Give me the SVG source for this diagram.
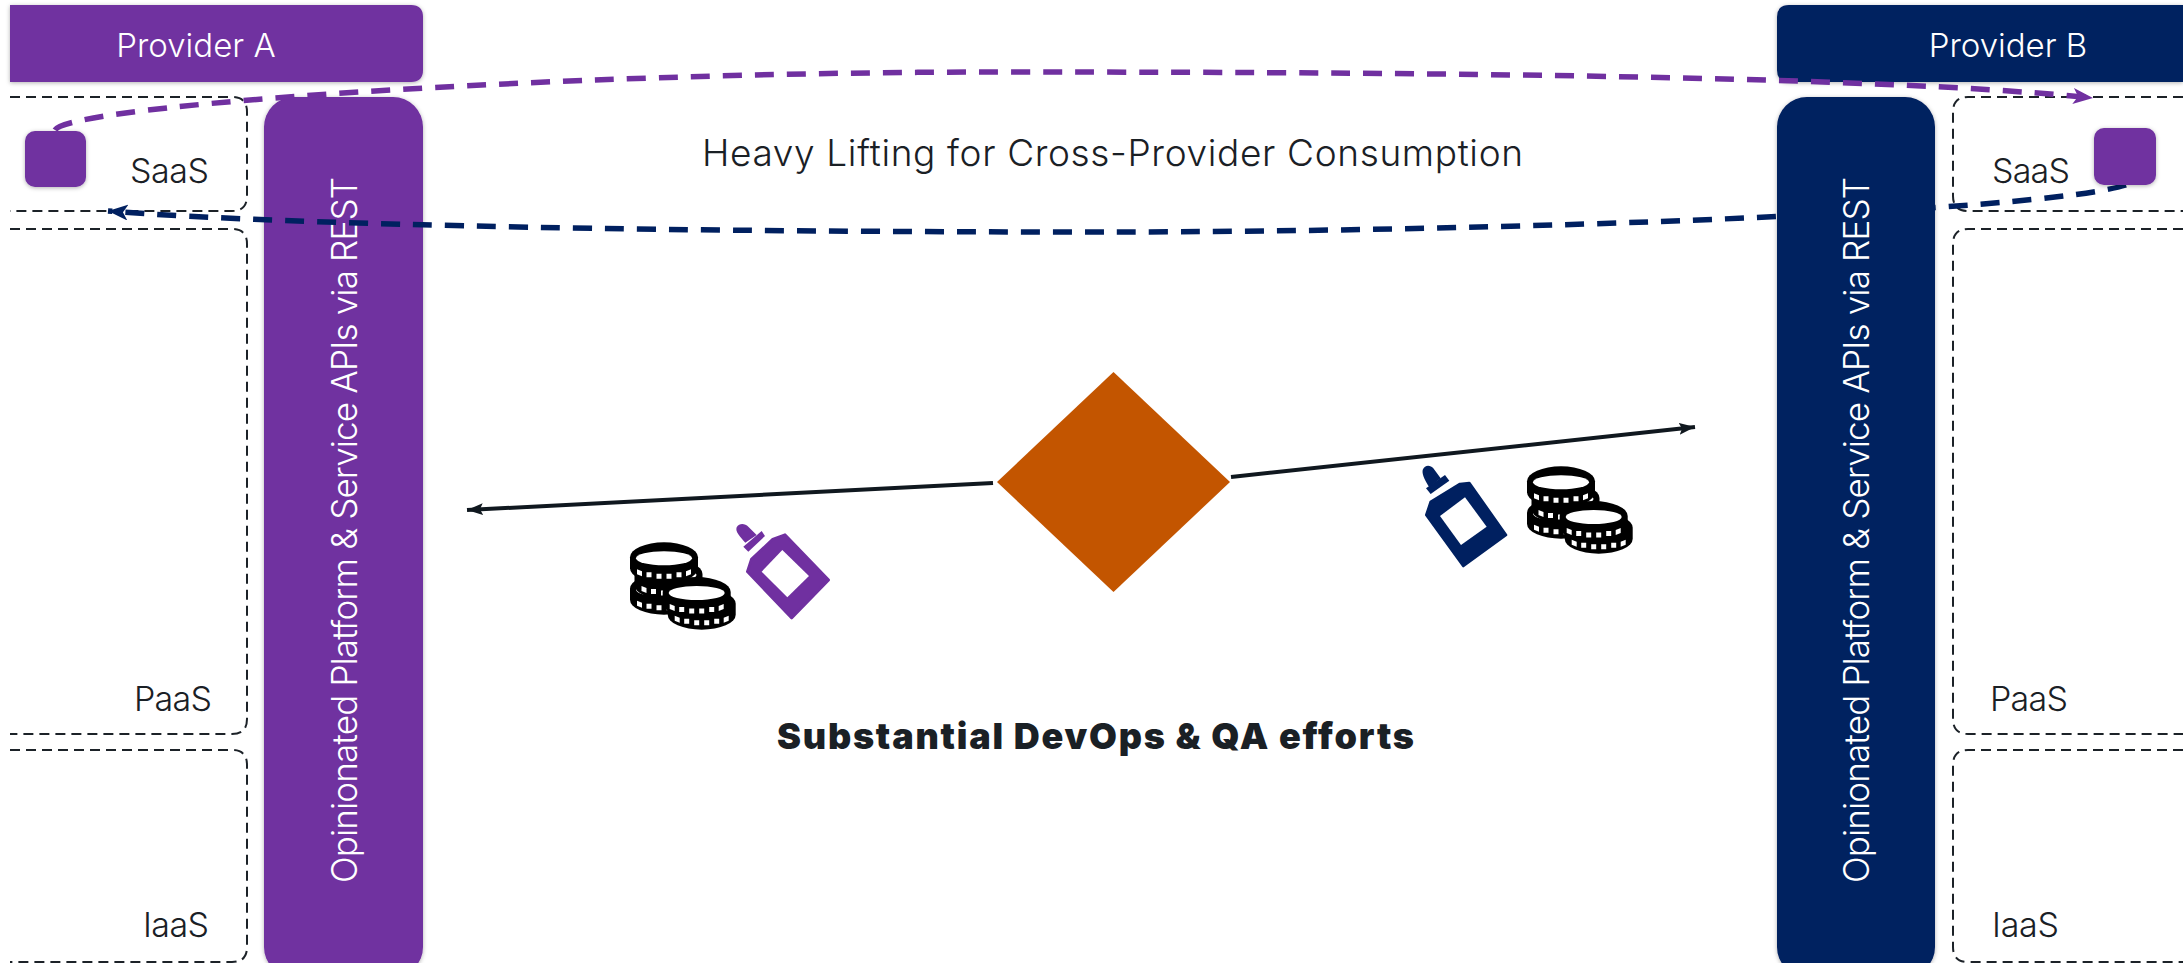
<svg xmlns="http://www.w3.org/2000/svg" width="2183" height="963" viewBox="0 0 2183 963">
<style>
text{font-family:Inter,"Noto Sans","Liberation Sans",sans-serif;font-size:33px;font-weight:350;fill:#1a2025}
.w{fill:#fff}
.lab{font-size:34px}
.api{font-size:35px;font-weight:300}
.head{font-size:37px}
.bold{font-weight:900;font-size:36px;fill:#1a2025}
.purple{fill:#7030a0}
.navy{fill:#002060}
.box{fill:none;stroke:#1c2228;stroke-width:2;stroke-dasharray:10 6}
.sh{filter:url(#shadow)}
.conn{fill:none;stroke-width:5.500;stroke-dasharray:19 13}
.thin{fill:none;stroke:#10181f;stroke-width:4}
</style>
<defs>
<filter id="shadow" x="-10%" y="-10%" width="120%" height="120%"><feDropShadow dx="0" dy="1" stdDeviation="2" flood-color="#000" flood-opacity="0.3"/></filter>
<marker id="ap" markerUnits="userSpaceOnUse" markerWidth="22" markerHeight="16" refX="20" refY="8" orient="auto"><path d="M0 0L20 8L0 16L5 8Z" fill="#7030a0"/></marker>
<marker id="an" markerUnits="userSpaceOnUse" markerWidth="22" markerHeight="16" refX="20" refY="8" orient="auto"><path d="M0 0L20 8L0 16L5 8Z" fill="#002060"/></marker>
<marker id="ak" markerUnits="userSpaceOnUse" markerWidth="18" markerHeight="14" refX="16" refY="6" orient="auto"><path d="M0 0L16 6L0 12L3 6Z" fill="#10181f"/></marker>
<g id="coin">
<path d="M-34 -1A34 15 0 0 1 34 -1V10A34 15 0 0 1 -34 10Z" fill="#000"/>
<ellipse cx="0" cy="0" rx="28" ry="7" fill="#fff"/>
<path d="M-27 11l5 2v5l-5-2zM-17.500 14h5v5h-5zM-7.500 15.500h5v5h-5zM2.500 15.500h5v5h-5zM12.500 14h5v5h-5zM22 13l5-2v5l-5 2z" fill="#fff"/>
</g>
<g id="coins">
<use href="#coin" x="64" y="89.700"/>
<use href="#coin" x="68.500" y="75"/>
<use href="#coin" x="64" y="58.300"/>
<use href="#coin" x="101.700" y="104.700"/>
<use href="#coin" x="96.700" y="93"/>
</g>
</defs>
<rect width="2183" height="963" fill="#fff"/>

<g id="saas-a"><path class="box" d="M10 97H232Q247 97 247 112V196Q247 211 232 211H10"/><text class="lab" x="130" y="183" textLength="79">SaaS</text></g>
<g id="paas-a"><path class="box" d="M10 229H232Q247 229 247 244V719Q247 734 232 734H10"/><text class="lab" x="134" y="711" textLength="78">PaaS</text></g>
<g id="iaas-a"><path class="box" d="M10 750H232Q247 750 247 765V947Q247 962 232 962H10"/><text class="lab" x="143" y="937" textLength="66">IaaS</text></g>
<g id="saas-b"><path class="box" d="M2183 97H1968Q1953 97 1953 112V196Q1953 211 1968 211H2183"/><text class="lab" x="1992" y="183" textLength="78">SaaS</text></g>
<g id="paas-b"><path class="box" d="M2183 229H1968Q1953 229 1953 244V719Q1953 734 1968 734H2183"/><text class="lab" x="1990" y="711" textLength="78">PaaS</text></g>
<g id="iaas-b"><path class="box" d="M2183 750H1968Q1953 750 1953 765V947Q1953 962 1968 962H2183"/><text class="lab" x="1992" y="937" textLength="67">IaaS</text></g>

<g id="provider-a"><path class="purple sh" d="M10 5H411Q423 5 423 17V70Q423 82 411 82H10Z"/><text class="w" x="196" y="57" text-anchor="middle">Provider A</text></g>
<g id="api-a"><rect class="purple sh" x="264" y="97" width="159" height="880" rx="30"/><text class="w api" transform="translate(357 883) rotate(-90)" textLength="706" lengthAdjust="spacing">Opinionated Platform &amp; Service APIs via REST</text></g>
<g id="provider-b"><path class="navy sh" d="M2183 5H1789Q1777 5 1777 17V70Q1777 82 1789 82H2183Z"/><text class="w" x="2008" y="57" text-anchor="middle">Provider B</text></g>

<g id="connectors">
<path class="conn" stroke="#002060" marker-end="url(#an)" d="M2126 185C2040 212 1500 232 1100 232C700 232 300 226 108 211"/>
</g>
<g id="api-b"><rect class="navy sh" x="1777" y="97" width="158" height="880" rx="30"/><text class="w api" transform="translate(1869 883) rotate(-90)" textLength="706" lengthAdjust="spacing">Opinionated Platform &amp; Service APIs via REST</text></g>
<g id="connectors-front">
<path class="conn" stroke="#7030a0" marker-end="url(#ap)" d="M55 130C70 105 550 72 1000 72C1500 72 1900 78 2093 98"/>
<path class="thin" marker-end="url(#ak)" d="M993 483L467 510"/>
<path class="thin" marker-end="url(#ak)" d="M1231 477L1695 427"/>
</g>

<g id="app-a"><rect class="purple sh" x="25" y="131" width="61" height="56" rx="10"/></g>
<g id="app-b"><rect class="purple sh" x="2094" y="128" width="62" height="57" rx="10"/></g>

<g id="hub"><path d="M1113.500 372L1230 482L1113.500 592L997 482Z" fill="#c35500"/></g>

<g id="heading"><text class="head" x="702" y="166" textLength="821" lengthAdjust="spacing">Heavy Lifting for Cross-Provider Consumption</text></g>
<g id="caption"><text class="bold" x="777" y="749" textLength="637" lengthAdjust="spacing">Substantial DevOps &amp; QA efforts</text></g>

<g id="coins-a"><use href="#coins" x="600" y="500"/></g>
<g id="glue-a" class="purple" transform="translate(600 500) scale(.3333)">
<path stroke="#7030a0" stroke-width="8" stroke-linejoin="round" d="M555 104L686 240L575 354L442 215L454 178L518 118Z"/>
<path fill="#fff" d="M547 150L627 228L562 292L485 215Z"/>
<path d="M430 140L485 93L495 108L445 155Z"/>
<path d="M436 128C420 110 405 95 410 82C418 68 435 70 445 80L470 105Z"/>
</g>
<g id="coins-b"><use href="#coins" x="1497" y="424"/></g>
<g id="glue-b" class="navy" transform="translate(1400 440) scale(.3333)">
<path stroke="#002060" stroke-width="8" stroke-linejoin="round" d="M208 129L318 285L190 378L79 225L92 186L180 132Z"/>
<path fill="#fff" d="M195 172L260 260L183 315L120 228Z"/>
<path d="M78 145L135 105L148 122L92 162Z"/>
<path d="M88 142C78 125 65 105 68 90C75 72 92 75 100 85L122 115Z"/>
</g>
</svg>
